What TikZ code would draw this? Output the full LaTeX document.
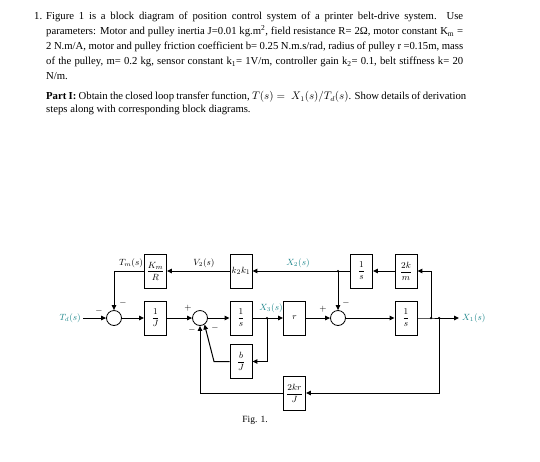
\documentclass[tikz,border=0pt]{standalone}
\usepackage{fontspec}
\usepackage{amsmath}
\setmainfont{Liberation Serif}
\usetikzlibrary{arrows.meta}
\definecolor{sigteal}{RGB}{30,135,140}
\begin{document}
\begin{tikzpicture}[x=1pt,y=-1pt,
  blk/.style={draw,line width=0.9pt,minimum width=22pt,minimum height=34pt,inner sep=0pt,font=\fontsize{9.5}{10}\selectfont},
  sumc/.style={draw,circle,line width=0.8pt,minimum size=15pt,inner sep=0pt},
  sig/.style={line width=1pt,-{Triangle[length=5pt,width=4.5pt]}},
  wire/.style={line width=1pt},
  lbl/.style={font=\fontsize{9}{10}\selectfont,inner sep=0pt},
  tl/.style={lbl,text=sigteal},
  sgn/.style={font=\fontsize{9}{9}\selectfont,inner sep=0pt},
  dot/.style={circle,fill,inner sep=0pt,minimum size=2.5pt}]
\useasboundingbox[fill=white] (0,0) rectangle (540,461);

% text
\node[anchor=base west,inner sep=0pt,font=\fontsize{10.7}{15}\selectfont] (num) at (34,19.5) {1.};
\node[anchor=north west,inner sep=0pt,text width=417pt,align=justify,font=\fontsize{10.7}{15}\selectfont] (para) at (46,12)
{\hyphenpenalty=10000\relax Figure 1 is a block diagram of position control system of a printer belt-drive system. Use\linebreak
parameters: Motor and pulley inertia J=0.01 kg.m\textsuperscript{2}, field resistance R= 2Ω, motor constant K\textsubscript{m} =\linebreak
2 N.m/A, motor and pulley friction coefficient b= 0.25 N.m.s/rad, radius of pulley r =0.15m, mass\linebreak
of the pulley, m= 0.2 kg, sensor constant k\textsubscript{1}= 1V/m, controller gain k\textsubscript{2}= 0.1, belt stiffness k= 20\linebreak
N/m.};
\node[anchor=north west,inner sep=0pt,text width=420pt,align=justify,font=\fontsize{10.7}{13}\selectfont] (part) at (46,91)
{\hyphenpenalty=10000\relax\textbf{Part I:} Obtain the closed loop transfer function, $T(s) =\; X_1(s)/T_d(s)$. Show details of derivation\linebreak
steps along with corresponding block diagrams.};

% blocks
\node[blk] (KmR) at (155.5,271) {$\dfrac{K_m}{R}$};
\node[blk] (invJ) at (155.5,318) {$\dfrac{1}{J}$};
\node[blk] (kk) at (241,271) {$k_2k_1$};
\node[blk] (s1) at (241,318) {$\dfrac{1}{s}$};
\node[blk] (bJ) at (241,361.5) {$\dfrac{b}{J}$};
\node[blk] (rb) at (294.5,318) {$r$};
\node[blk] (s2) at (361.5,271) {$\dfrac{1}{s}$};
\node[blk] (km) at (406,271) {$\dfrac{2k}{m}$};
\node[blk] (s3) at (406,318) {$\dfrac{1}{s}$};
\node[blk] (krJ) at (294.5,393) {$\dfrac{2kr}{J}$};

% summing junctions
\node[sumc] (S1) at (114,318) {};
\node[sumc] (S2) at (200,318) {};
\node[sumc] (S3) at (338,318) {};

% points
\coordinate (tdin) at (83,318);
\coordinate (x3) at (267,318);
\coordinate (j2) at (338,271);
\coordinate (j1a) at (431,318);
\coordinate (j1b) at (439,318);
\coordinate (x1out) at (459,318);
\node[dot] at (x3) {};
\node[dot] at (j2) {};
\node[dot] at (j1a) {};
\node[dot] at (j1b) {};

% labels
\node[tl,anchor=east] (Tdl) at (81,318) {$T_d(s)$};
\node[tl,anchor=west] (X1l) at (462,318) {$X_1(s)$};
\node[tl] (X2l) at (298,263) {$X_2(s)$};
\node[tl] (X3l) at (271,308) {$X_3(s)$};
\node[lbl] (Tml) at (131,263) {$T_m(s)$};
\node[lbl] (V2l) at (204,263) {$V_2(s)$};

% signs
\node[sgn] at (99,311) {$-$};
\node[sgn] at (123,303) {$-$};
\node[sgn] at (188,308) {$+$};
\node[sgn] at (192,330) {$-$};
\node[sgn] at (215,328) {$-$};
\node[sgn] at (323,309) {$+$};
\node[sgn] at (346,303) {$-$};

% connectors
\draw[sig] (tdin) -- (S1);
\draw[sig] (S1) -- (invJ);
\draw[sig] (invJ) -- (S2);
\draw[sig] (S2) -- (s1);
\draw[wire] (s1) -- (x3);
\draw[sig] (x3) -- (rb);
\draw[sig] (rb) -- (S3);
\draw[sig] (S3) -- (s3);
\draw[wire] (s3) -- (j1a) -- (j1b);
\draw[sig] (j1b) -- (x1out);
\draw[sig] (j1a) |- (km.east);
\draw[sig] (km) -- (s2);
\draw[wire] (s2) -- (j2);
\draw[sig] (j2) -- (kk);
\draw[sig] (j2) -- (S3);
\draw[sig] (kk) -- (KmR);
\draw[sig] (KmR.west) -| (S1.north);
\draw[sig] (x3) |- (bJ.east);
\draw[sig] (bJ.west) -- (214,361.5) -- (S2.-55);
\draw[sig] (j1b) |- (krJ.east);
\draw[sig] (krJ.west) -| (S2.south);

% caption
\node[inner sep=0pt,font=\fontsize{9.5}{10}\selectfont] (cap) at (255,420) {Fig. 1.};
\end{tikzpicture}
\end{document}
